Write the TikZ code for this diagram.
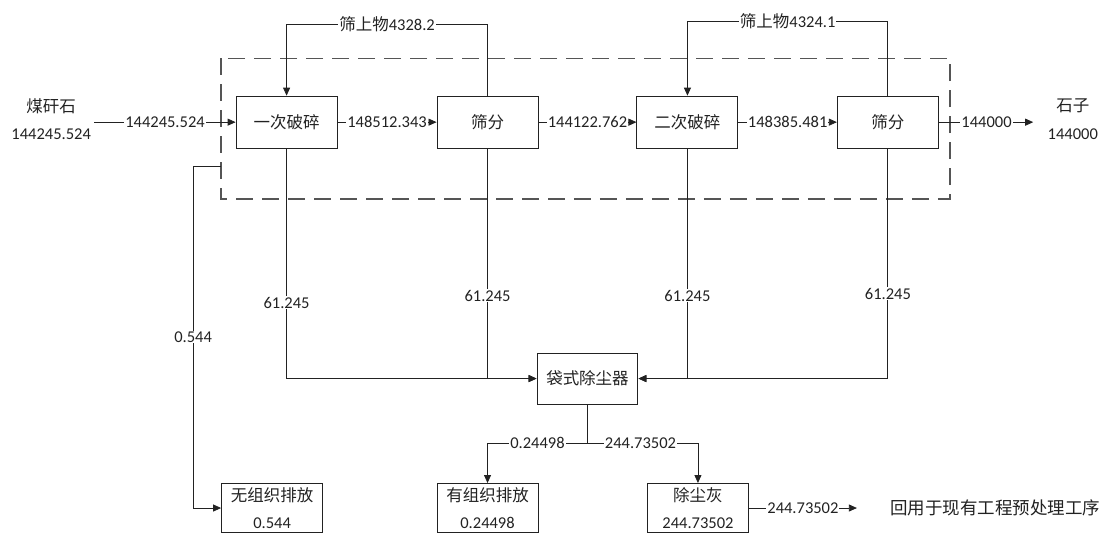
\documentclass[tikz,border=0pt]{standalone}
\usepackage{fontspec}
\setmainfont{Carlito}
\newfontfamily\cjkfont{Noto Sans CJK SC}
\usetikzlibrary{arrows.meta}
\newcommand{\zh}[1]{{\cjkfont #1}}
\newcommand{\flowfont}{\fontsize{16.5}{27.5}\selectfont}
\definecolor{inkgray}{RGB}{34,34,34}
\definecolor{dashgray}{RGB}{85,85,85}

\begin{document}
\begin{tikzpicture}[x=1pt,y=-1pt,font=\flowfont,text=inkgray,
  unitbox/.style={draw=inkgray,line width=1pt,minimum width=101pt,minimum height=52pt,inner sep=0pt,align=center},
  sinkbox/.style={unitbox,minimum height=49pt},
  flow/.style={draw=inkgray,line width=0.8pt,-{Triangle[length=8pt,width=7pt]}},
  pipe/.style={draw=inkgray,line width=0.8pt},
  qty/.style={fill=white,inner sep=1pt},
  dashbox/.style={draw=dashgray,line width=1.3pt,dash pattern=on 17pt off 9pt}]
\filldraw[color=white] (0.000000, 0.000000) rectangle (1102.000000, 534.000000);
\useasboundingbox (0.000000, 0.000000) rectangle (1102.000000, 534.000000);
% Drawing the enclosed crushing line
\draw[dashbox] (221.000000, 58.000000) rectangle (950.000000, 199.000000);
\coordinate (leak) at (221.000000, 166.000000);
% Done with enclosure; drawing units
\node[unitbox] (crush1) at (286.500000, 122.000000) {\zh{一次破碎}};
\node[unitbox] (sieve1) at (487.500000, 122.000000) {\zh{筛分}};
\node[unitbox] (crush2) at (687.500000, 122.000000) {\zh{二次破碎}};
\node[unitbox] (sieve2) at (888.000000, 122.000000) {\zh{筛分}};
\node[unitbox,minimum height=51pt] (bag) at (587.500000, 378.500000) {\zh{袋式除尘器}};
\node[sinkbox] (fugitive) at (272.000000, 508.000000) {\zh{无组织排放}\\0.544};
\node[sinkbox] (stack) at (487.500000, 508.000000) {\zh{有组织排放}\\0.24498};
\node[sinkbox] (ash) at (698.000000, 508.000000) {\zh{除尘灰}\\244.73502};
% Done with units; drawing end labels
\node[align=center] (feed) at (51.000000, 119.000000) {\zh{煤矸石}\\144245.524};
\node[align=center] (stone) at (1073.000000, 119.000000) {\zh{石子}\\144000};
\node[font=\fontsize{17.5}{20}\selectfont,anchor=west,inner sep=1pt] (reuse) at (889.000000, 508.000000) {\zh{回用于现有工程预处理工序}};
\coordinate (split) at (587.500000, 443.000000);
% Done with end labels; drawing main flows
\draw[flow] (feed.east |- crush1.west) -- node[qty] {144245.524} (crush1.west);
\draw[flow] (crush1.east) -- node[qty] {148512.343} (sieve1.west);
\draw[flow] (sieve1.east) -- node[qty] {144122.762} (crush2.west);
\draw[flow] (crush2.east) -- node[qty] {148385.481} (sieve2.west);
\draw[flow,shorten >=11pt] (sieve2.east) -- node[qty,xshift=-5pt] {144000} (stone.west |- sieve2.east);
% Oversize returns
\draw[flow] (sieve1.north) -- ++(0,-71) -| node[qty,pos=0.25] {\zh{筛上物}4328.2} (crush1.north);
\draw[flow] (sieve2.north) -- ++(0,-74) -| node[qty,pos=0.25] {\zh{筛上物}4324.1} (crush2.north);
% Dust to the bag filter
\draw[flow] (crush1.south) -- node[qty,pos=0.67] {61.245} (crush1.south |- bag.west) -- (bag.west);
\draw[flow] (sieve1.south) -- node[qty,pos=0.64] {61.245} (sieve1.south |- bag.west) -- (bag.west);
\draw[flow] (crush2.south) -- node[qty,pos=0.64] {61.245} (crush2.south |- bag.east) -- (bag.east);
\draw[flow] (sieve2.south) -- node[qty,pos=0.63] {61.245} (sieve2.south |- bag.east) -- (bag.east);
\draw[flow] (leak) -- ++(-28,0) |- node[qty,pos=0.25] {0.544} (fugitive.west);
% Bag filter outputs
\draw[pipe] (bag.south) -- (split);
\draw[flow] (split) -| node[qty,pos=0.25] {0.24498} (stack.north);
\draw[flow] (split) -| node[qty,pos=0.24] {244.73502} (ash.north);
\draw[flow,shorten >=32pt] (ash.east) -- node[qty,xshift=-16pt] {244.73502} (reuse.west);
% Done with flows
\end{tikzpicture}
\end{document}
